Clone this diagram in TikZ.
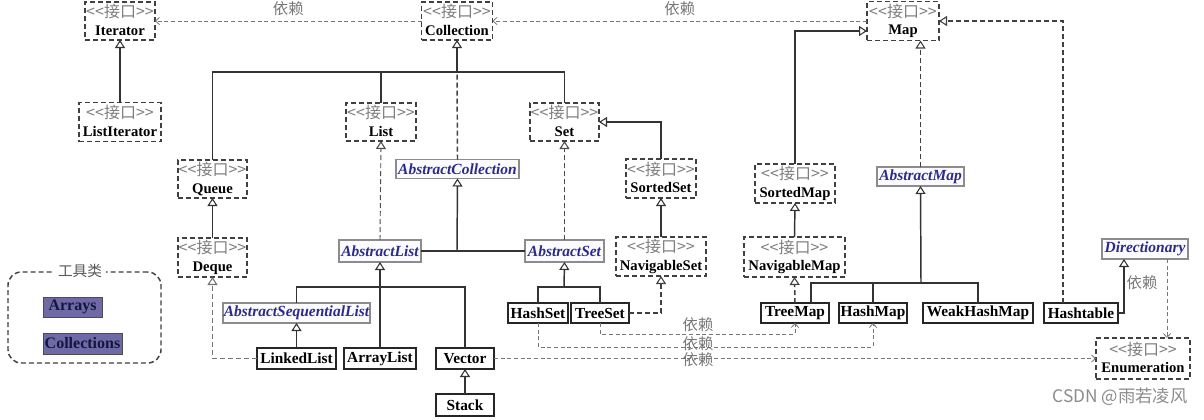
\documentclass[tikz,border=0pt]{standalone}
\usepackage{fontspec}
\setmainfont{Liberation Serif}
\newfontfamily\cjk{Noto Sans CJK SC}
\usepackage{tikz}
\usetikzlibrary{arrows.meta, calc}

\definecolor{stereo}{HTML}{7F7F7F}
\definecolor{absblue}{HTML}{2B2B8A}
\definecolor{utilfill}{HTML}{6E6AA6}
\definecolor{utiltext}{HTML}{15153F}
\definecolor{depgray}{HTML}{777777}

% two-line text of an interface box
\newcommand{\itf}[1]{{\cjk\fontsize{12}{13}\selectfont\color{stereo}\strut<\kern0pt<接口>\kern0pt>}\\\textbf{#1}\rule[-2pt]{0pt}{2pt}}

\tikzset{
  every node/.style={inner sep=0pt, outer sep=0pt},
  wh/.style 2 args={minimum width=#1*0.75pt, minimum height=#2*0.75pt},
  iface/.style={draw=black!75, line width=1.1pt, dash pattern=on 3.75pt off 2.25pt,
    fill=white, align=center, font=\fontsize{11}{13}\selectfont},
  absc/.style={draw=black!45, line width=0.8pt, fill=blue!2, text=absblue,
    font=\fontsize{11.6}{13}\selectfont\bfseries\itshape},
  cls/.style={draw=black!85, line width=1.2pt, fill=white,
    font=\fontsize{11.5}{13}\selectfont\bfseries},
  util/.style={draw=black!70, line width=0.6pt, fill=utilfill, text=utiltext,
    font=\fontsize{12}{13}\selectfont\bfseries},
  toolframe/.style={draw=black!75, line width=1.1pt, dash pattern=on 3.75pt off 2.25pt,
    rounded corners=10pt},
  hollow/.style={-{Triangle[open, length=6pt, width=7.5pt, line width=0.8pt]}},
  ext/.style={draw=black!80, line width=1.1pt},
  inherit/.style={ext, hollow},
  realize/.style={draw=black!75, line width=1.1pt, dash pattern=on 3.75pt off 2.25pt},
  realizethin/.style={draw=black!70, line width=0.7pt, dash pattern=on 3.75pt off 2.25pt, hollow},
  dep/.style={draw=depgray, line width=0.6pt, dash pattern=on 3pt off 2pt,
    -{Straight Barb[length=3pt, width=5.5pt]}},
  deplabel/.style={font=\cjk\fontsize{11.5}{12}\selectfont, text=depgray},
}

\begin{document}
\begin{tikzpicture}[x=0.75pt, y=-0.75pt]
  \useasboundingbox (0,0) rectangle (1204,419);
  \fill[white] (0,0) rectangle (1204,419);

  % interfaces
  \node[iface, wh={70}{38}] (iterator) at (120,21) {\itf{Iterator}};
  \node[iface, wh={82}{39}] (listiter) at (120,122) {\itf{ListIterator}};
  \node[iface, wh={71}{38}] (collection) at (457,21) {\itf{Collection}};
  \node[iface, wh={72}{39}] (map) at (903,21) {\itf{Map}};
  \node[iface, wh={70}{38}] (list) at (381,122) {\itf{List}};
  \node[iface, wh={69}{38}] (set) at (564.5,122) {\itf{Set}};
  \node[iface, wh={69}{38}] (queue) at (212.5,179) {\itf{Queue}};
  \node[iface, wh={69}{39}] (deque) at (212.5,257.5) {\itf{Deque}};
  \node[iface, wh={70}{39}] (sortedset) at (661,178.5) {\itf{SortedSet}};
  \node[iface, wh={90}{39}] (navset) at (661,256.5) {\itf{NavigableSet}};
  \node[iface, wh={80}{39}] (sortedmap) at (795,183.5) {\itf{SortedMap}};
  \node[iface, wh={101}{40}] (navmap) at (794.5,257) {\itf{NavigableMap}};
  \node[iface, wh={94}{41}] (enumeration) at (1143,358.5) {\itf{Enumeration}};

  % abstract classes
  \node[absc, wh={123}{19}] (abscoll) at (457.5,169) {AbstractCollection};
  \node[absc, wh={82}{22}] (abslist) at (380,251) {AbstractList};
  \node[absc, wh={79}{22}] (absset) at (564.5,251) {AbstractSet};
  \node[absc, wh={147}{20}] (seqlist) at (296.5,313) {AbstractSequentialList};
  \node[absc, wh={87}{19}] (absmap) at (920.5,176.5) {AbstractMap};
  \node[absc, wh={86}{20}] (directionary) at (1145,249) {Directionary};

  % classes
  \node[cls, wh={79}{21}] (linkedlist) at (296.5,358.5) {LinkedList};
  \node[cls, wh={72}{21}] (arraylist) at (380,358.5) {ArrayList};
  \node[cls, wh={58}{21}] (vector) at (465,358.5) {Vector};
  \node[cls, wh={58}{22}] (stack) at (465,405) {Stack};
  \node[cls, wh={60}{20}] (hashset) at (538,313) {HashSet};
  \node[cls, wh={58}{20}] (treeset) at (600,313) {TreeSet};
  \node[cls, wh={68}{20}] (treemap) at (795,313) {TreeMap};
  \node[cls, wh={68}{20}] (hashmap) at (873,313) {HashMap};
  \node[cls, wh={110}{20}] (weakhashmap) at (978,313) {WeakHashMap};
  \node[cls, wh={74}{20}] (hashtable) at (1081,313) {Hashtable};

  % tool classes
  \node[toolframe, wh={153}{91}] (toolbox) at (84.5,317.5) {};
  \node[fill=white, inner xsep=3pt, text=black!65, font=\cjk\fontsize{11}{12}\selectfont] (toolname) at (80,271) {工具类};
  \node[util, wh={59}{20}] (arrays) at (72.5,307) {Arrays};
  \node[util, wh={79}{21}] (collections) at (82.5,343.5) {Collections};

  % junction points
  \coordinate (colbus) at (457,72);
  \coordinate (acbus) at (457,251);
  \coordinate (albus) at (380,287);
  \coordinate (asbus) at (564,287);
  \coordinate (ambus) at (921,283);
  \coordinate (tmbranch) at ($(treemap.north)+(16,0)$);
  \coordinate (htbranch) at ($(hashtable.north)+(-18,0)$);
  \coordinate (smentry) at ($(map.west)+(0,10)$);
  \coordinate (dirin) at ($(directionary.south)+(-21,0)$);
  \coordinate (dirout) at ($(directionary.south)+(22,0)$);

  % dependencies on top
  \draw[dep] (collection.west) -- (iterator.east) node[deplabel, midway, above=4pt] (dep1) {依赖};
  \draw[dep] (map.west) -- (collection.east) node[deplabel, midway, above=4pt] (dep2) {依赖};

  % Collection branch
  \draw[inherit] (listiter.north) -- (iterator.south);
  \draw[inherit] (colbus) -- (collection.south);
  \draw[ext] (queue.north) |- (colbus) -| (set.north);
  \draw[ext] (list.north) -- (list.north |- colbus);
  \draw[realize] (abscoll.north) -- (colbus);
  \draw[inherit] (sortedset.north) |- (set.east);
  \draw[inherit] (navset.north) -- (sortedset.south);
  \draw[inherit] (deque.north) -- (queue.south);
  \draw[realizethin] (abslist.north) -- (list.south);
  \draw[realizethin] (absset.north) -- (set.south);
  \draw[ext] (abslist.east) -- (absset.west);
  \draw[inherit] (acbus) -- (abscoll.south);

  % lists
  \draw[inherit] (arraylist.north) -- (abslist.south);
  \draw[ext] (seqlist.north) |- (albus) -| (vector.north);
  \draw[inherit] (linkedlist.north) -- (seqlist.south);
  \draw[realizethin, draw=black!55] (linkedlist.west) -| (deque.south);
  \draw[inherit] (stack.north) -- (vector.south);

  % sets
  \draw[inherit] (asbus) -- (absset.south);
  \draw[ext] (hashset.north) |- (asbus) -| (treeset.north);
  \draw[realize, hollow] (treeset.east) -| (navset.south);

  % maps
  \draw[realize, hollow] (treemap.north) -- (navmap.south);
  \draw[inherit] (navmap.north) -- (sortedmap.south);
  \draw[inherit] (sortedmap.north) |- (smentry);
  \draw[realize, hollow] (absmap.north) -- (absmap.north |- map.south);
  \draw[inherit] (ambus) -- (absmap.south);
  \draw[ext] (tmbranch) |- (ambus) -| (weakhashmap.north);
  \draw[ext] (hashmap.north) -- (hashmap.north |- ambus);
  \draw[realize, hollow] (htbranch) |- (map.east);
  \draw[inherit] (hashtable.east) -| (dirin);

  % dependencies at the bottom
  \draw[dep] (treeset.south) -- ++(0,11) -| (treemap.south);
  \draw[dep] (hashset.south) -- ++(0,24) -| (hashmap.south);
  \draw[dep] (vector.east) -- (vector.east -| enumeration.west);
  \draw[dep] (dirout) -- (dirout |- enumeration.north);
  \node[deplabel] (dep3) at (698,325) {依赖};
  \node[deplabel] (dep4) at (698,344) {依赖};
  \node[deplabel] (dep5) at (698,360) {依赖};
  \node[deplabel] (dep6) at (1142,283) {依赖};

  \node[text=black!45, font=\cjk\fontsize{13}{15}\selectfont] (watermark) at (1120,397) {CSDN @雨若凌风};
\end{tikzpicture}
\end{document}
